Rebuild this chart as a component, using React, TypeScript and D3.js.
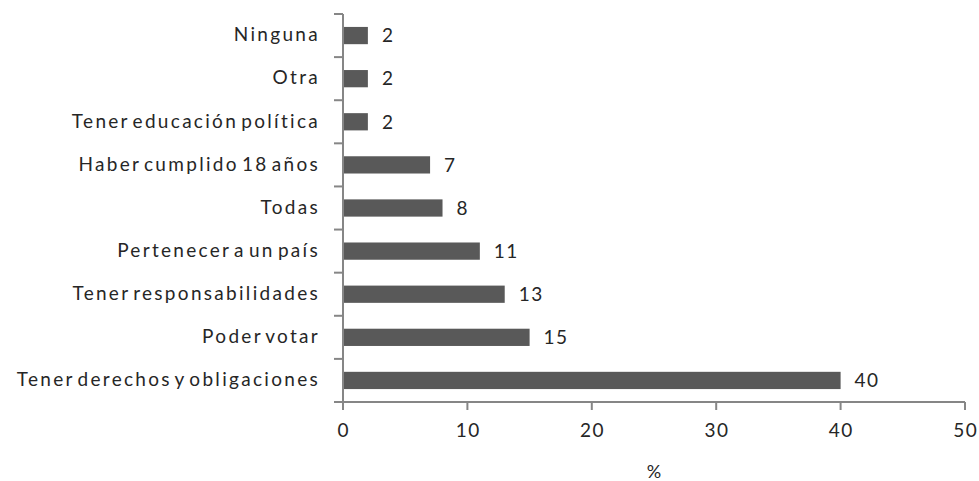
import React from "react";
import * as d3 from "d3";

// Respuestas (%) en el orden en que se apilan de arriba hacia abajo
const categories = [
  "Ninguna",
  "Otra",
  "Tener educación política",
  "Haber cumplido 18 años",
  "Todas",
  "Pertenecer a un país",
  "Tener responsabilidades",
  "Poder votar",
  "Tener derechos y obligaciones",
];
const values = [2, 2, 2, 7, 8, 11, 13, 15, 40];
const xTicks = [0, 10, 20, 30, 40, 50];
const xTitle = "%";

const W = 979;
const H = 481;
const left = 343;
const right = 965;
const top = 14;
const bottom = 402;
const FONT = "Lato, 'Open Sans', sans-serif";
const AXIS = "#868686";
const BAR = "#595959";
const TEXT = "#262626";

const textStyle = { letterSpacing: "2.3px", wordSpacing: "-4px" };
const numStyle = { letterSpacing: "1.5px" };

export default function App() {
  const x = d3.scaleLinear().domain([0, 50]).range([left, right]);
  const y = d3.scaleBand<string>().domain(categories).range([top, bottom]).paddingInner(0.6).paddingOuter(0.3);
  const band = d3.scaleBand<string>().domain(categories).range([top, bottom]);
  const step = band.step();

  return (
    <svg width={W} height={H} style={{ position: "absolute", left: 0, top: 0, background: "#fff" }}>
      {/* bars */}
      {categories.map((c, i) => (
        <rect key={c} x={x(0)} y={y(c)!} width={x(values[i]) - x(0)} height={y.bandwidth()} fill={BAR} />
      ))}
      {/* value labels */}
      {categories.map((c, i) => (
        <text key={c + "v"} x={x(values[i]) + 14} y={y(c)! + y.bandwidth() / 2 + 2} dominantBaseline="middle"
          fontFamily={FONT} fontSize={19} fill={TEXT} style={numStyle}>
          {values[i]}
        </text>
      ))}
      {/* y axis */}
      <line x1={left} x2={left} y1={top} y2={bottom} stroke={AXIS} strokeWidth={2} />
      {d3.range(categories.length + 1).map((k) => (
        <line key={"yt" + k} x1={left - 9} x2={left} y1={top + k * step} y2={top + k * step} stroke={AXIS} strokeWidth={2} />
      ))}
      {categories.map((c) => (
        <text key={c + "l"} x={320} y={band(c)! + step / 2 + 1} textAnchor="end" dominantBaseline="middle"
          fontFamily={FONT} fontSize={19} fill={TEXT} style={textStyle}>
          {c}
        </text>
      ))}
      {/* x axis */}
      <line x1={left} x2={right} y1={bottom} y2={bottom} stroke={AXIS} strokeWidth={2} />
      {xTicks.map((t) => (
        <g key={"xt" + t}>
          <line x1={x(t)} x2={x(t)} y1={bottom} y2={bottom + 8} stroke={AXIS} strokeWidth={2} />
          <text x={x(t) + 0.75} y={432} textAnchor="middle" dominantBaseline="middle" fontFamily={FONT} fontSize={19} fill={TEXT} style={numStyle}>
            {t}
          </text>
        </g>
      ))}
      <text x={(left + right) / 2} y={473} textAnchor="middle" dominantBaseline="middle" fontFamily={FONT} fontSize={18} fill={TEXT}>
        {xTitle}
      </text>
    </svg>
  );
}
